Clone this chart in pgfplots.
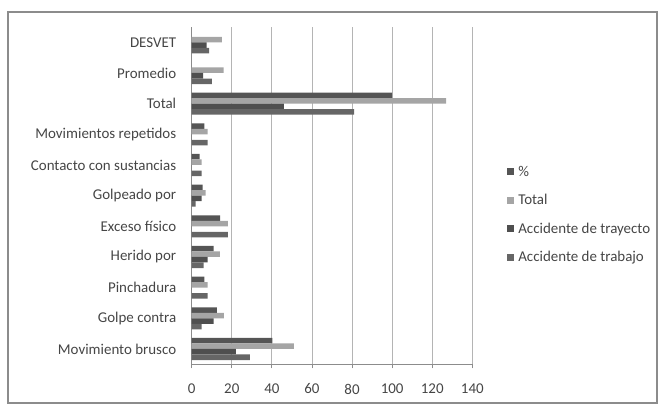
\documentclass[border=0pt]{standalone}
\usepackage{pgfplots}
\pgfplotsset{compat=1.18}
\usepackage{fontspec}
\setmainfont{Carlito}
\definecolor{cpct}{HTML}{555555}
\definecolor{ctot}{HTML}{A5A5A5}
\definecolor{ctray}{HTML}{4F4F4F}
\definecolor{ctrab}{HTML}{666666}
\definecolor{txt}{HTML}{454545}
\definecolor{axgray}{HTML}{8C8C8C}
\definecolor{grd}{HTML}{B4B4B4}
\begin{document}
\begin{tikzpicture}
\useasboundingbox (0bp,0bp) rectangle (661bp,410bp);
\draw[axgray,line width=1.2bp] (8bp,7bp) rectangle (657bp,398bp);
\begin{axis}[
  at={(191.7bp,45.7bp)}, anchor=south west,
  scale only axis, width=280.6bp, height=337.3bp,
  xmin=0, xmax=140, ymin=-0.5, ymax=10.5,
  axis x line*=bottom, axis y line*=left,
  axis line style={axgray, line width=0.8bp},
  xtick={0,20,...,140},
  xmajorgrids, major grid style={grd, line width=0.8bp},
  ytick={0,...,10},
  yticklabels={Movimiento brusco, Golpe contra, Pinchadura, Herido por, Exceso físico\ , Golpeado por, Contacto con sustancias, Movimientos repetidos, Total, Promedio, DESVET},
  minor ytick={-0.5,0.5,...,10.5},
  ytick style={draw=none},
  minor tick style={axgray, line width=0.8bp},
  minor tick length=4bp,
  xtick style={axgray, line width=0.8bp},
  major tick length=4bp,
  tick align=outside,
  /pgf/number format/assume math mode=true,
  ticklabel style={font=\fontsize{15}{17}\selectfont, text=txt},
  xticklabel style={yshift=-12bp},
  yticklabel style={xshift=-8bp},
  xbar, bar width=0.18,
  legend style={draw=none, fill=none, at={(1.124,0.444)}, anchor=west,
    font=\fontsize{15}{17}\selectfont, text=txt, row sep=12.7bp, inner sep=0pt,
    /tikz/every odd column/.append style={column sep=2bp}},
  legend cell align=left,
  legend image code/.code={\path[#1] (0bp,-3.5bp) rectangle (7bp,3.5bp);},
]
\addplot[fill=cpct, draw=none, bar shift=0.27] coordinates {
 (40.2,0) (12.6,1) (6.3,2) (11.0,3) (14.2,4) (5.5,5) (3.9,6) (6.3,7) (100,8)};
\addlegendentry{\%}
\addplot[fill=ctot, draw=none, bar shift=0.09] coordinates {
 (51,0) (16,1) (8,2) (14,3) (18,4) (7,5) (5,6) (8,7) (127,8) (15.9,9) (15.0,10)};
\addlegendentry{Total}
\addplot[fill=ctray, draw=none, bar shift=-0.09] coordinates {
 (22,0) (11,1) (0,2) (8,3) (0,4) (5,5) (0,6) (0,7) (46,8) (5.75,9) (7.5,10)};
\addlegendentry{Accidente de trayecto}
\addplot[fill=ctrab, draw=none, bar shift=-0.27] coordinates {
 (29,0) (5,1) (8,2) (6,3) (18,4) (2,5) (5,6) (8,7) (81,8) (10.1,9) (8.7,10)};
\addlegendentry{Accidente de trabajo}
\end{axis}
\end{tikzpicture}
\end{document}
